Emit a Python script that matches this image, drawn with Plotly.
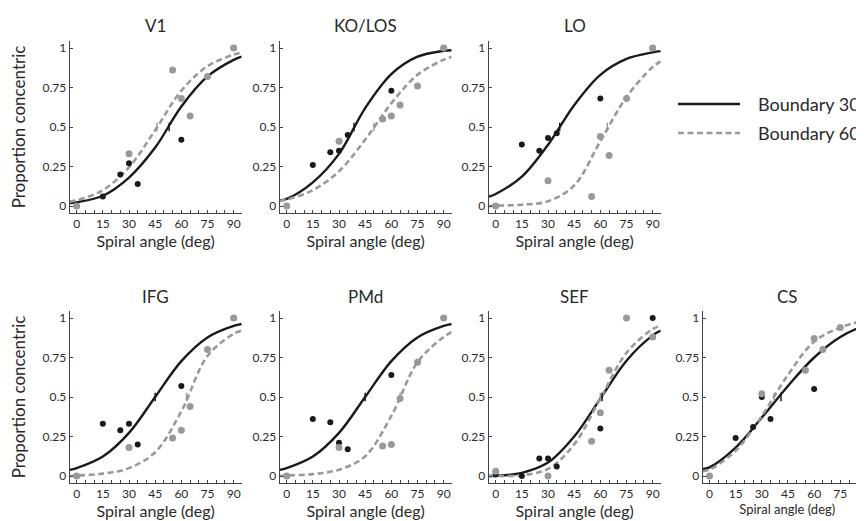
import plotly.graph_objects as go

# ---------------- data ----------------
panels = ["V1", "KO/LOS", "LO", "IFG", "PMd", "SEF", "CS"]

# measured angles for each boundary condition
angles_b30 = [0, 15, 25, 30, 35, 60, 90]
angles_b60 = [0, 30, 55, 60, 65, 75, 90]

# proportion "concentric" responses (boundary 30 = black, boundary 60 = grey)
b30_V1 = [0.0, 0.06, 0.20, 0.27, 0.14, 0.42, 1.0]
b60_V1 = [0.0, 0.33, 0.86, 0.68, 0.57, 0.82, 1.0]
b30_KO = [0.0, 0.26, 0.34, 0.35, 0.45, 0.73, 1.0]
b60_KO = [0.0, 0.41, 0.55, 0.57, 0.64, 0.76, 1.0]
b30_LO = [0.0, 0.39, 0.35, 0.43, 0.46, 0.68, 1.0]
b60_LO = [0.0, 0.16, 0.06, 0.44, 0.32, 0.68, 1.0]
b30_IFG = [0.0, 0.33, 0.29, 0.33, 0.20, 0.57, 1.0]
b60_IFG = [0.0, 0.18, 0.24, 0.29, 0.44, 0.80, 1.0]
b30_PMd = [0.0, 0.36, 0.34, 0.21, 0.17, 0.64, 1.0]
b60_PMd = [0.0, 0.18, 0.19, 0.20, 0.49, 0.72, 1.0]
b30_SEF = [0.01, 0.0, 0.11, 0.11, 0.06, 0.30, 1.0]
b60_SEF = [0.03, 0.0, 0.22, 0.40, 0.67, 1.0, 0.88]
b30_CS = [0.0, 0.24, 0.31, 0.50, 0.36, 0.55, 1.0]
b60_CS = [0.0, 0.52, 0.67, 0.87, 0.80, 0.94, 1.0]

# fitted psychometric curves at these angles
fit_angles = [-4, 0, 15, 30, 45, 60, 75, 90, 94.6]
fit30_V1 = [0.018, 0.024, 0.065, 0.18, 0.37, 0.63, 0.82, 0.925, 0.945]
fit60_V1 = [0.027, 0.036, 0.10, 0.245, 0.48, 0.73, 0.885, 0.958, 0.97]
fit30_KO = [0.035, 0.045, 0.15, 0.33, 0.62, 0.835, 0.945, 0.982, 0.986]
fit60_KO = [0.032, 0.041, 0.10, 0.22, 0.42, 0.65, 0.83, 0.926, 0.944]
fit30_LO = [0.059, 0.076, 0.186, 0.388, 0.638, 0.83, 0.931, 0.972, 0.98]
fit60_LO = [0.0, 0.002, 0.008, 0.03, 0.13, 0.41, 0.69, 0.88, 0.915]
fit30_IFG = [0.039, 0.05, 0.123, 0.273, 0.5, 0.727, 0.877, 0.95, 0.962]
fit60_IFG = [0.0, 0.003, 0.015, 0.05, 0.15, 0.41, 0.76, 0.90, 0.92]
fit30_PMd = [0.039, 0.05, 0.123, 0.273, 0.5, 0.727, 0.877, 0.95, 0.962]
fit60_PMd = [0.0, 0.003, 0.012, 0.04, 0.125, 0.38, 0.72, 0.88, 0.91]
fit30_SEF = [0.0, 0.001, 0.02, 0.085, 0.25, 0.49, 0.73, 0.89, 0.92]
fit60_SEF = [0.0, 0.0, 0.005, 0.045, 0.20, 0.49, 0.78, 0.93, 0.95]
fit30_CS = [0.045, 0.055, 0.18, 0.37, 0.57, 0.75, 0.88, 0.955, 0.965]
fit60_CS = [0.03, 0.04, 0.16, 0.38, 0.64, 0.85, 0.94, 0.985, 0.99]

# 50% thresholds (angle) of each fit
thr30 = [53, 38.6, 36.7, 45, 45, 61, 41]
thr60 = [46, 50, 64, 63, 65, 60, 37]

x_ticks = [0, 15, 30, 45, 60, 75, 90]
y_ticks = [0, 0.25, 0.5, 0.75, 1]
y_tick_labels = ["0", "0.25", "0.5", "0.75", "1"]
legend_labels = ["Boundary 30", "Boundary 60"]

b30_all = [b30_V1, b30_KO, b30_LO, b30_IFG, b30_PMd, b30_SEF, b30_CS]
b60_all = [b60_V1, b60_KO, b60_LO, b60_IFG, b60_PMd, b60_SEF, b60_CS]
fit30_all = [fit30_V1, fit30_KO, fit30_LO, fit30_IFG, fit30_PMd, fit30_SEF, fit30_CS]
fit60_all = [fit60_V1, fit60_KO, fit60_LO, fit60_IFG, fit60_PMd, fit60_SEF, fit60_CS]

# ---------------- layout / style ----------------
W, H = 864, 521
FONT = "Lato, 'Open Sans', sans-serif"
BLACK = "#1a1a1a"
GREY = "#999999"
AXIS = "#444444"
TEXT = "#2a2a2a"

col_px = [(61.7, 233.7), (271.7, 443.7), (480.7, 652.7), (694.5, 864.0)]
row_px = [(33, 205), (303, 475)]
grid_pos = [(0, 0), (0, 1), (0, 2), (1, 0), (1, 1), (1, 2), (1, 3)]
PX_PER_DEG = 172 / 98.6

fig = go.Figure()
layout_upd = {}
annotations = []

for i, name in enumerate(panels):
    r, c = grid_pos[i]
    xa = "x" if i == 0 else f"x{i+1}"
    ya = "y" if i == 0 else f"y{i+1}"
    x0, x1 = col_px[c]
    y0, y1 = row_px[r]
    xr_max = -4 + (x1 - x0) / PX_PER_DEG

    # fitted curves
    fig.add_trace(go.Scatter(x=fit_angles, y=fit30_all[i], mode="lines",
                             line=dict(color=BLACK, width=2.4, shape="spline"),
                             xaxis=xa, yaxis=ya, showlegend=False,
                             name=legend_labels[0], hoverinfo="skip"))
    fig.add_trace(go.Scatter(x=fit_angles, y=fit60_all[i], mode="lines",
                             line=dict(color=GREY, width=2.6, dash="6px,3.5px", shape="spline"),
                             xaxis=xa, yaxis=ya, showlegend=False,
                             name=legend_labels[1], hoverinfo="skip"))
    # data points
    fig.add_trace(go.Scatter(x=angles_b30, y=b30_all[i], mode="markers",
                             marker=dict(color=BLACK, size=6),
                             xaxis=xa, yaxis=ya, showlegend=False, name=legend_labels[0]))
    fig.add_trace(go.Scatter(x=angles_b60, y=b60_all[i], mode="markers",
                             marker=dict(color=GREY, size=7),
                             xaxis=xa, yaxis=ya, showlegend=False, name=legend_labels[1]))
    # threshold ticks
    fig.add_trace(go.Scatter(x=[thr30[i]], y=[0.5], mode="markers",
                             marker=dict(symbol="line-ns", size=6, line=dict(width=1.5, color=BLACK)),
                             xaxis=xa, yaxis=ya, showlegend=False, hoverinfo="skip"))
    fig.add_trace(go.Scatter(x=[thr60[i]], y=[0.5], mode="markers",
                             marker=dict(symbol="line-ns", size=6, line=dict(width=1.5, color=GREY)),
                             xaxis=xa, yaxis=ya, showlegend=False, hoverinfo="skip"))

    key_x = "xaxis" if i == 0 else f"xaxis{i+1}"
    key_y = "yaxis" if i == 0 else f"yaxis{i+1}"
    xtitle_size = 13 if name == "CS" else 16
    layout_upd[key_x] = dict(
        domain=[x0 / W, min(x1 / W, 1.0)], anchor=ya, range=[-4, xr_max],
        tickvals=x_ticks, ticktext=[str(v) for v in x_ticks],
        ticks="inside", ticklen=3, tickwidth=1, tickcolor=AXIS,
        minor=dict(dtick=5, tick0=0, ticks="inside", ticklen=3, tickcolor=AXIS, tickwidth=1),
        showline=True, linecolor=AXIS, linewidth=1, showgrid=False, zeroline=False,
        tickfont=dict(family=FONT, size=12, color=TEXT),
        title=dict(text="Spiral angle (deg)", font=dict(family=FONT, size=xtitle_size, color=TEXT), standoff=4),
        fixedrange=True,
    )
    layout_upd[key_y] = dict(
        domain=[1 - y1 / H, 1 - y0 / H], anchor=xa, range=[-0.0443, 1.0443],
        tickvals=y_ticks, ticktext=y_tick_labels,
        ticks="inside", ticklen=3, tickwidth=1, tickcolor=AXIS,
        showline=True, linecolor=AXIS, linewidth=1, showgrid=False, zeroline=False,
        tickfont=dict(family=FONT, size=12, color=TEXT),
        title=dict(text="Proportion concentric" if c == 0 else "",
                   font=dict(family=FONT, size=17, color=TEXT), standoff=12),
        fixedrange=True,
    )
    # panel title
    annotations.append(dict(text=name, x=(x0 + x1) / 2 / W, y=1 - (y0 - 15) / H,
                            xref="paper", yref="paper", xanchor="center", yanchor="middle",
                            showarrow=False, font=dict(family=FONT, size=17, color=TEXT)))

# legend (drawn manually to match the long line samples)
leg_y = [96, 125]
leg_x = (670, 732, 748)
shapes = [
    dict(type="line", xref="paper", yref="paper", x0=leg_x[0] / W, x1=leg_x[1] / W,
         y0=1 - leg_y[0] / H, y1=1 - leg_y[0] / H, line=dict(color=BLACK, width=2.6)),
    dict(type="line", xref="paper", yref="paper", x0=leg_x[0] / W, x1=leg_x[1] / W,
         y0=1 - leg_y[1] / H, y1=1 - leg_y[1] / H, line=dict(color=GREY, width=2.6, dash="6px,3.5px")),
]
for lbl, ly in zip(legend_labels, leg_y):
    annotations.append(dict(text=lbl, x=leg_x[2] / W, y=1 - ly / H, xref="paper", yref="paper",
                            xanchor="left", yanchor="middle", showarrow=False,
                            font=dict(family=FONT, size=18, color=TEXT)))

fig.update_layout(
    width=W, height=H, margin=dict(l=0, r=0, t=0, b=0),
    paper_bgcolor="white", plot_bgcolor="white",
    showlegend=False, annotations=annotations, shapes=shapes,
    font=dict(family=FONT, color=TEXT),
    **layout_upd,
)

fig.write_html("out.html")
